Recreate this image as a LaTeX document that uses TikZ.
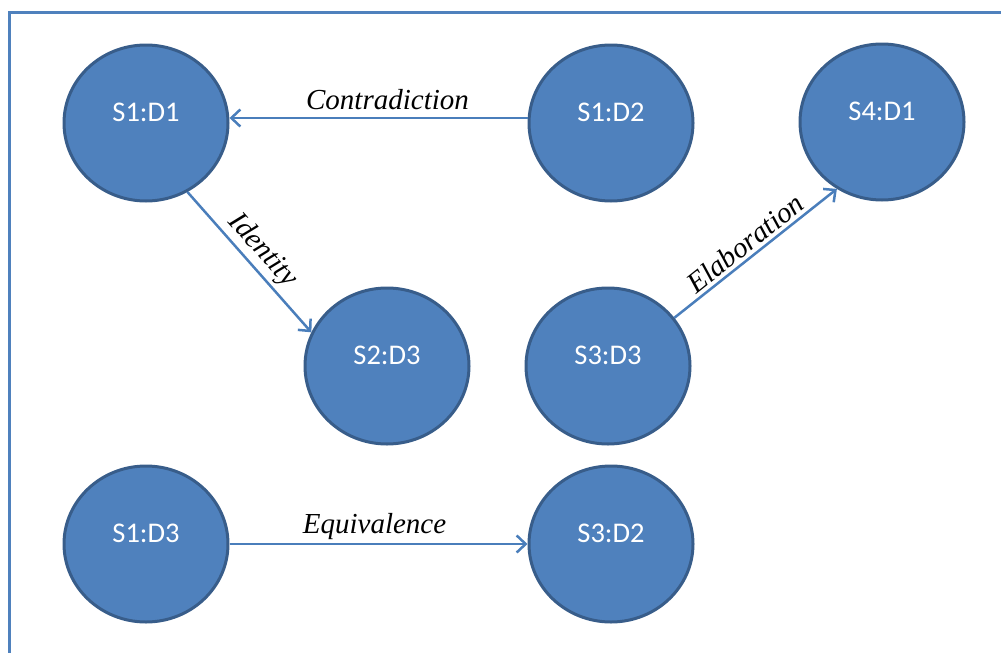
\documentclass[tikz,border=0pt]{standalone}
\usepackage{fontspec}
\setmainfont{Liberation Serif}
\newfontfamily\circfont{Carlito}
\usetikzlibrary{shapes.geometric,arrows.meta}
\definecolor{circfill}{HTML}{4F81BD}
\definecolor{circedge}{HTML}{385D8A}
\definecolor{linkblue}{HTML}{4A7EBB}
\begin{document}
\begin{tikzpicture}[x=1pt,y=-1pt,
  sent/.style={ellipse, fill=circfill, draw=circedge, line width=3pt,
    minimum width=164pt, minimum height=156pt, inner sep=0pt,
    text=white, font=\circfont\fontsize{28.5}{30}\selectfont},
  rel/.style={draw=linkblue, line width=2.5pt,
    -{Straight Barb[length=9pt,width=17pt,line width=2.5pt]}},
  rellabel/.style={font=\itshape\fontsize{29}{32}\selectfont, text=black, inner sep=3pt}]
  \useasboundingbox (0,0) rectangle (1001,653);
  % frame along the top and left edges
  \draw[color=circfill, line width=3pt] (9,653) -- (9,12) -- (1001,12);
  % sentence nodes (text sits above the centre)
  \node[sent] (s1d1) at (146,123) {\raisebox{22pt}{S1:D1}};
  \node[sent] (s1d2) at (611,123) {\raisebox{22pt}{S1:D2}};
  \node[sent] (s4d1) at (882,122) {\raisebox{22pt}{S4:D1}};
  \node[sent] (s2d3) at (387,366) {\raisebox{22pt}{S2:D3}};
  \node[sent] (s3d3) at (608,366) {\raisebox{22pt}{S3:D3}};
  \node[sent] (s1d3) at (146,544) {\raisebox{22pt}{S1:D3}};
  \node[sent] (s3d2) at (611,544) {\raisebox{22pt}{S3:D2}};
  % relations
  \draw[rel] ([yshift=5pt]s1d2.west) -- node[rellabel, above, xshift=9pt, yshift=4pt] {Contradiction} ([yshift=5pt]s1d1.east);
  \draw[rel] (s1d1.-59) -- node[rellabel, sloped, above] {Identity} (s2d3.156);
  \draw[rel] (s3d3.36) -- node[rellabel, sloped, above, xshift=-2pt] {Elaboration} (s4d1.236);
  \draw[rel] (s1d3) -- node[rellabel, above, xshift=-4pt] {Equivalence} (s3d2);
\end{tikzpicture}
\end{document}
